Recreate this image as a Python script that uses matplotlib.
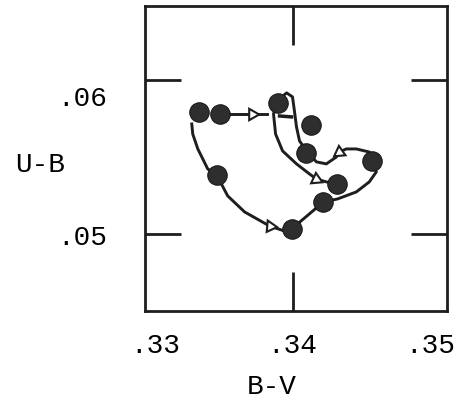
import matplotlib.pyplot as plt
import matplotlib.transforms as mtransforms
import numpy as np

# colour-colour points (B-V, U-B)
bv = [0.33319, 0.33471, 0.33891, 0.34138, 0.34101, 0.34580, 0.34326, 0.34225, 0.33993, 0.33449]
ub = [0.05792, 0.05779, 0.05851, 0.05708, 0.05526, 0.05474, 0.05325, 0.05208, 0.05032, 0.05383]

# hand-drawn track through the points
track_bv = [0.33268, 0.33275, 0.33312, 0.33384, 0.33449, 0.33529, 0.33652, 0.33833, 0.33942, 0.33993,
            0.34225, 0.34326, 0.34464, 0.34558, 0.34609, 0.34580, 0.34558, 0.34464, 0.34391, 0.34341,
            0.34319, 0.34246, 0.34174, 0.34109, 0.34051, 0.34029, 0.34014, 0.34000, 0.33957, 0.33906]
track_ub = [0.05714, 0.05649, 0.05552, 0.05422, 0.05383, 0.05247, 0.05143, 0.05052, 0.05019, 0.05032,
            0.05208, 0.05227, 0.05273, 0.05338, 0.05403, 0.05474, 0.05532, 0.05552, 0.05552, 0.05532,
            0.05500, 0.05455, 0.05468, 0.05532, 0.05604, 0.05695, 0.05799, 0.05890, 0.05916, 0.05877]

branch_bv = [0.33891, 0.33862, 0.33877, 0.33928, 0.34029, 0.34123, 0.34174, 0.34246, 0.34326]
branch_ub = [0.05851, 0.05779, 0.05649, 0.05539, 0.05455, 0.05390, 0.05357, 0.05338, 0.05325]

top_bv = [0.33471, 0.33812]
top_ub = [0.05779, 0.05779]

dash_bv = [0.33906, 0.33993]
dash_ub = [0.05766, 0.05760]

# direction arrows along the track: position and heading (deg)
arrow_bv = [0.33703, 0.33833, 0.34174, 0.34341]
arrow_ub = [0.05779, 0.05052, 0.05357, 0.05532]
arrow_dir = [0, -5, -25, 215]

xtick_vals = [0.33, 0.34, 0.35]
xtick_text = ['.33', '.34', '.35']
ytick_vals = [0.05, 0.06]
ytick_text = ['.05', '.06']

plt.rcParams['font.family'] = ['Liberation Mono', 'DejaVu Sans Mono']

fig = plt.figure(figsize=(4.64, 4.14), dpi=100)
ax = fig.add_axes([0.3125, 0.2464, 0.6509, 0.7367])

ink = '#1e1e1e'
ax.plot(track_bv, track_ub, color=ink, lw=2.1, zorder=2)
ax.plot(branch_bv, branch_ub, color=ink, lw=2.1, zorder=2)
ax.plot(top_bv, top_ub, color=ink, lw=2.1, zorder=2)
ax.plot(dash_bv, dash_ub, color=ink, lw=2.5, zorder=2)

for x, y, d in zip(arrow_bv, arrow_ub, arrow_dir):
    ax.plot(x, y, marker=(3, 0, d - 90), ms=9.5, mfc='white', mec=ink, mew=1.5, zorder=3)

ax.plot(bv, ub, 'o', ms=14, mfc='#2e2e2e', mec='#1a1a1a', mew=0.8, zorder=4)

ax.set_xlim(0.32928, 0.35123)
ax.set_ylim(0.0450, 0.0648)

# only the middle value gets a tick mark; the outer labels sit on the frame
ax.set_xticks([xtick_vals[1]], [xtick_text[1]])
ax.set_xticks([xtick_vals[0], xtick_vals[2]], [xtick_text[0], xtick_text[2]], minor=True)
ax.tick_params(axis='x', which='major', direction='in', length=28, width=2,
               top=True, bottom=True, pad=15, labelsize=20, color=ink)
ax.tick_params(axis='x', which='minor', length=0, pad=15, labelsize=20)
ax.set_yticks(ytick_vals, ytick_text)
ax.tick_params(axis='y', which='major', direction='in', length=26, width=2,
               left=True, right=True, pad=27, labelsize=20, color=ink)

# the upper label sits a little low on the typed original
lab = ax.get_yticklabels()[1]
lab.set_transform(lab.get_transform() + mtransforms.ScaledTranslation(0, -0.15, fig.dpi_scale_trans))

for s in ax.spines.values():
    s.set_linewidth(2)
    s.set_color(ink)

fig.text(0.086, 0.601, 'U-B', fontsize=20, ha='center', va='center')
fig.text(0.586, 0.065, 'B-V', fontsize=20, ha='center', va='center')

fig.savefig('out.png', dpi=100, facecolor='white')
